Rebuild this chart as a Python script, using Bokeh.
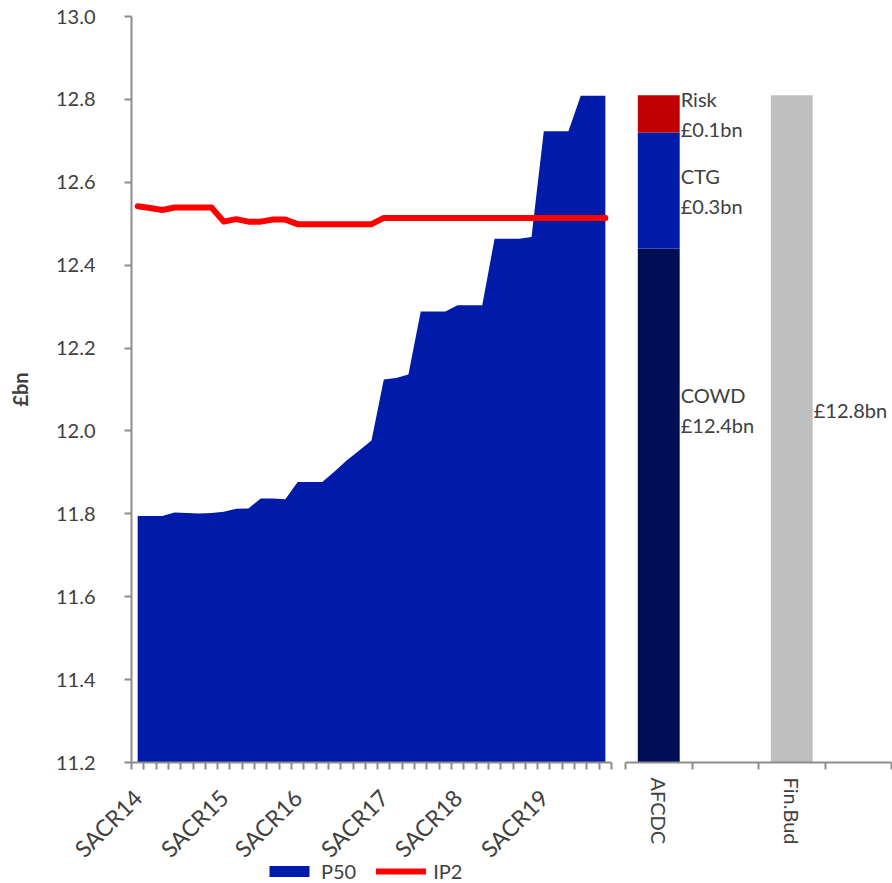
from bokeh.plotting import figure
from bokeh.layouts import row, column
from bokeh.models import Range1d, FixedTicker, Legend, LegendItem, PrintfTickFormatter
from bokeh.core.properties import value
from bokeh.embed import file_html
from bokeh.resources import INLINE

# ---------------- data ----------------
tick_idx = [0, 7, 13, 20, 26, 33]
tick_labels = ["SACR14", "SACR15", "SACR16", "SACR17", "SACR18", "SACR19"]

p50 = [11.795, 11.795, 11.795, 11.803, 11.802, 11.801, 11.802, 11.805, 11.812, 11.813,
       11.837, 11.837, 11.835, 11.877, 11.877, 11.877, 11.902, 11.929, 11.953, 11.977,
       12.124, 12.128, 12.136, 12.288, 12.288, 12.288, 12.303, 12.303, 12.303, 12.464,
       12.464, 12.464, 12.468, 12.723, 12.723, 12.723, 12.809, 12.809, 12.809]

ip2 = [12.542, 12.538, 12.533, 12.539, 12.539, 12.539, 12.539, 12.505, 12.511, 12.505,
       12.505, 12.510, 12.510, 12.499, 12.499, 12.499, 12.499, 12.499, 12.499, 12.499,
       12.514, 12.514, 12.514, 12.514, 12.514, 12.514, 12.514, 12.514, 12.514, 12.514,
       12.514, 12.514, 12.514, 12.514, 12.514, 12.514, 12.514, 12.514, 12.514]

y_ticks = [11.2, 11.4, 11.6, 11.8, 12.0, 12.2, 12.4, 12.6, 12.8, 13.0]

bar_cats = ["AFCDC", "", "Fin.Bud", ""]
cowd = 12.44
ctg = 0.28
risk = 0.09
fin_bud = 12.81

# ---------------- style ----------------
FONT = "Lato"
TXT = "#404040"
AXC = "#8C8C8C"
BLUE = "#001AAA"
NAVY = "#000F55"
RED_BAR = "#C00000"
RED_LINE = "#FF0000"
GREY = "#BFBFBF"
Y_MIN, Y_MAX = y_ticks[0], y_ticks[-1]
TOP_H = 883
LEG_H = 26

n = len(p50)
xs = [i + 0.5 for i in range(n)]

p = figure(width=618, height=TOP_H, output_backend="svg", toolbar_location=None,
           x_range=Range1d(0, n), y_range=Range1d(Y_MIN, Y_MAX),
           min_border_left=131, min_border_right=7, min_border_top=16, min_border_bottom=121)
p.outline_line_color = None
p.grid.visible = False
p.background_fill_color = "white"
p.border_fill_color = "white"

p.varea(x=xs, y1=[Y_MIN] * n, y2=p50, fill_color=BLUE)
p.line(x=xs, y=ip2, line_color=RED_LINE, line_width=6, line_cap="round", line_join="round")

# y axis
ya = p.yaxis[0]
ya.ticker = FixedTicker(ticks=y_ticks, minor_ticks=[])
ya.formatter = PrintfTickFormatter(format="%.1f")
ya.axis_label = "£bn"
ya.axis_label_text_font = FONT
ya.axis_label_text_font_style = "bold"
ya.axis_label_text_font_size = "20px"
ya.axis_label_text_color = TXT
ya.axis_label_standoff = 21
ya.major_label_text_font = FONT
ya.major_label_text_font_size = "20px"
ya.major_label_text_color = TXT
ya.major_label_standoff = 29
ya.major_tick_out = 7
ya.major_tick_in = 0
ya.minor_tick_out = 0
ya.minor_tick_in = 0
ya.axis_line_color = AXC
ya.axis_line_width = 2
ya.major_tick_line_color = AXC
ya.major_tick_line_width = 2

# x axis (labels at category centers, tick marks at category boundaries)
xa = p.xaxis[0]
xa.ticker = FixedTicker(ticks=[i + 0.5 for i in tick_idx],
                        minor_ticks=list(range(n + 1)))
xa.major_label_overrides = {i + 0.5: lab for i, lab in zip(tick_idx, tick_labels)}
xa.major_label_orientation = 0.785398
xa.major_label_text_font = FONT
xa.major_label_text_font_size = "23px"
xa.major_label_text_color = TXT
xa.major_label_standoff = 24
xa.major_tick_out = 0
xa.major_tick_in = 0
xa.minor_tick_out = 7
xa.minor_tick_in = 0
xa.minor_tick_line_color = AXC
xa.minor_tick_line_width = 2
xa.axis_line_color = AXC
xa.axis_line_width = 2

# ---------------- right panel ----------------
m = len(bar_cats)
q = figure(width=274, height=TOP_H, output_backend="svg", toolbar_location=None,
           x_range=Range1d(0, m), y_range=p.y_range,
           min_border_left=7, min_border_right=1, min_border_top=16, min_border_bottom=121)
q.outline_line_color = None
q.grid.visible = False
q.yaxis.visible = False
q.background_fill_color = "white"
q.border_fill_color = "white"

BW = 0.63
xa_i = bar_cats.index("AFCDC") + 0.5
xf_i = bar_cats.index("Fin.Bud") + 0.5
q.vbar(x=[xa_i], bottom=[0], top=[cowd], width=BW, fill_color=NAVY, line_color=None)
q.vbar(x=[xa_i], bottom=[cowd], top=[cowd + ctg], width=BW, fill_color=BLUE, line_color=None)
q.vbar(x=[xa_i], bottom=[cowd + ctg], top=[cowd + ctg + risk], width=BW,
       fill_color=RED_BAR, line_color=None)
q.vbar(x=[xf_i], bottom=[0], top=[fin_bud], width=BW, fill_color=GREY, line_color=None)

LABEL_Y = 12.05
lab_x = [xa_i + BW / 2, xa_i + BW / 2, xa_i + BW / 2, xf_i + BW / 2]
lab_y = [cowd + ctg + risk / 2, cowd + ctg / 2, LABEL_Y, LABEL_Y]
lab_t = [f"Risk\n£{risk:.1f}bn", f"CTG\n£{ctg:.1f}bn", f"COWD\n£{cowd:.1f}bn", f"£{fin_bud:.1f}bn"]
q.text(x=lab_x, y=lab_y, text=lab_t, x_offset=1, text_align="left", text_baseline="middle",
       text_font=value(FONT), text_font_size="20px", text_color=TXT, text_line_height=1.25)

qa = q.xaxis[0]
qa.ticker = FixedTicker(ticks=[i + 0.5 for i, c in enumerate(bar_cats) if c],
                        minor_ticks=list(range(m + 1)))
qa.major_label_overrides = {i + 0.5: c for i, c in enumerate(bar_cats) if c}
qa.major_label_orientation = "vertical"
qa.major_label_text_font = FONT
qa.major_label_text_font_size = "20px"
qa.major_label_text_color = TXT
qa.major_label_standoff = 8
qa.major_tick_out = 0
qa.major_tick_in = 0
qa.minor_tick_out = 7
qa.minor_tick_in = 0
qa.minor_tick_line_color = AXC
qa.minor_tick_line_width = 2
qa.axis_line_color = AXC
qa.axis_line_width = 2

# ---------------- legend strip (overlaps the bottom of the charts) ----------------
lf = figure(width=618, height=LEG_H, output_backend="svg", toolbar_location=None,
            x_axis_type=None, y_axis_type=None, x_range=Range1d(-2, -1), y_range=Range1d(-2, -1),
            min_border=0, margin=(-LEG_H, 0, 0, 0))
lf.outline_line_color = None
lf.grid.visible = False
lf.border_fill_alpha = 0
lf.background_fill_alpha = 0
leg_area = lf.varea(x=xs, y1=[Y_MIN] * n, y2=p50, fill_color=BLUE)
leg_line = lf.line(x=xs, y=ip2, line_color=RED_LINE, line_width=6, line_cap="round")
legend = Legend(items=[LegendItem(label="P50", renderers=[leg_area]),
                       LegendItem(label="IP2", renderers=[leg_line])],
                orientation="horizontal", location=(264, 0),
                label_text_font=FONT, label_text_font_size="20px", label_text_color=TXT,
                glyph_width=50, glyph_height=14, spacing=20, label_standoff=7,
                label_height=20, padding=0, margin=0,
                border_line_color=None, background_fill_alpha=0)
lf.add_layout(legend, "center")

layout = column(row(p, q), lf)
open("out.html", "w").write(file_html(layout, INLINE))
